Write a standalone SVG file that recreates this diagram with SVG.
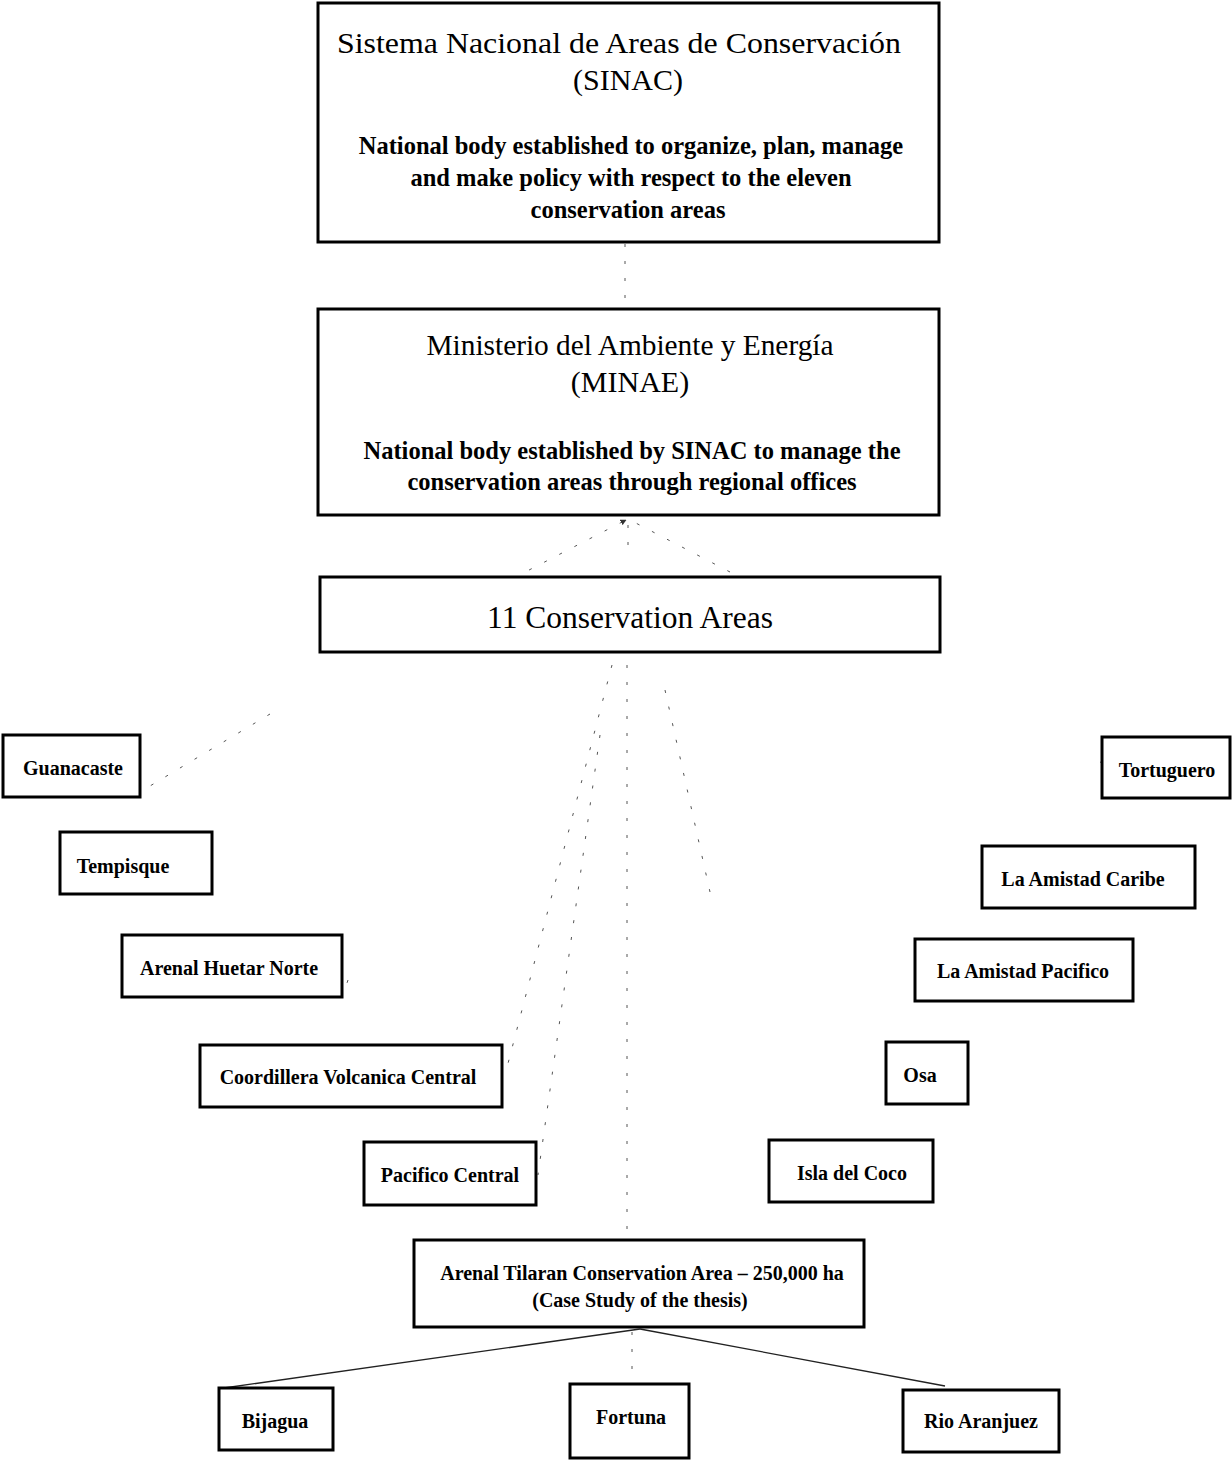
<svg xmlns="http://www.w3.org/2000/svg" width="1232" height="1460" viewBox="0 0 1232 1460">
<style>
.box{fill:#fff;stroke:#000;stroke-width:3}
.t{font-family:"Liberation Serif","Times New Roman",serif;fill:#000;text-anchor:middle}
.title{font-size:30px}
.body{font-size:24.5px;font-weight:bold}
.big{font-size:31.5px}
.sm{font-size:20px;font-weight:bold}
.faint{stroke:#555;stroke-width:1;fill:none;stroke-dasharray:3 14}
.solid{stroke:#222;stroke-width:1.3;fill:none}
</style>
<defs>
<marker id="ah" viewBox="0 0 10 10" refX="9" refY="5" markerWidth="6" markerHeight="6" orient="auto"><path d="M0,0 L10,5 L0,10 z" fill="#333"/></marker>
</defs>
<rect width="1232" height="1460" fill="#fff"/>
<g id="connectors">
<line class="faint" x1="625" y1="244" x2="625" y2="308"/>
<line class="faint" x1="378" y1="648" x2="626" y2="520" marker-end="url(#ah)"/>
<line class="faint" x1="730" y1="572" x2="630" y2="520"/>
<line class="faint" x1="628" y1="545" x2="628" y2="522"/>
<line class="faint" x1="270" y1="714" x2="140" y2="792"/>
<line class="faint" x1="612" y1="665" x2="505" y2="1075"/>
<line class="faint" x1="600" y1="735" x2="538" y2="1175"/>
<line class="faint" x1="627" y1="665" x2="627" y2="1240"/>
<line class="faint" x1="665" y1="690" x2="710" y2="892"/>
<line class="faint" x1="348" y1="980" x2="343" y2="995"/>
<line class="faint" x1="1100" y1="762" x2="1106" y2="764"/>
<line class="solid" x1="640" y1="1329" x2="224" y2="1388"/>
<line class="solid" x1="640" y1="1329" x2="945" y2="1386"/>
<line class="faint" x1="632" y1="1332" x2="632" y2="1382"/>
</g>
<g id="sinac">
<rect class="box" x="318" y="3" width="621" height="239"/>
<text class="t title" x="619" y="53" textLength="564" lengthAdjust="spacingAndGlyphs">Sistema Nacional de Areas de Conservación</text>
<text class="t title" x="628" y="90">(SINAC)</text>
<text class="t body" x="631" y="154">National body established to organize, plan, manage</text>
<text class="t body" x="631" y="186">and make policy with respect to the eleven</text>
<text class="t body" x="628" y="218">conservation areas</text>
</g>
<g id="minae">
<rect class="box" x="318" y="309" width="621" height="206"/>
<text class="t title" x="630" y="355" textLength="407" lengthAdjust="spacingAndGlyphs">Ministerio del Ambiente y Energía</text>
<text class="t title" x="630" y="392">(MINAE)</text>
<text class="t body" x="632" y="459">National body established by SINAC to manage the</text>
<text class="t body" x="632" y="490">conservation areas through regional offices</text>
</g>
<g id="areas11">
<rect class="box" x="320" y="577" width="620" height="75"/>
<text class="t big" x="630" y="628">11 Conservation Areas</text>
</g>
<g id="guanacaste"><rect class="box" x="3" y="735" width="137" height="62"/><text class="t sm" x="73" y="775">Guanacaste</text></g>
<g id="tempisque"><rect class="box" x="60" y="832" width="152" height="62"/><text class="t sm" x="123" y="873">Tempisque</text></g>
<g id="arenal-huetar-norte"><rect class="box" x="122" y="935" width="220" height="62"/><text class="t sm" x="229" y="975">Arenal Huetar Norte</text></g>
<g id="coordillera"><rect class="box" x="200" y="1045" width="302" height="62"/><text class="t sm" x="348" y="1084">Coordillera Volcanica Central</text></g>
<g id="pacifico-central"><rect class="box" x="364" y="1142" width="172" height="63"/><text class="t sm" x="450" y="1182">Pacifico Central</text></g>
<g id="tortuguero"><rect class="box" x="1102" y="737" width="128" height="61"/><text class="t sm" x="1167" y="777">Tortuguero</text></g>
<g id="la-amistad-caribe"><rect class="box" x="982" y="846" width="213" height="62"/><text class="t sm" x="1083" y="886">La Amistad Caribe</text></g>
<g id="la-amistad-pacifico"><rect class="box" x="915" y="939" width="218" height="62"/><text class="t sm" x="1023" y="978">La Amistad Pacifico</text></g>
<g id="osa"><rect class="box" x="886" y="1042" width="82" height="62"/><text class="t sm" x="920" y="1082">Osa</text></g>
<g id="isla-del-coco"><rect class="box" x="769" y="1140" width="164" height="62"/><text class="t sm" x="852" y="1180">Isla del Coco</text></g>
<g id="arenal-tilaran"><rect class="box" x="414" y="1240" width="450" height="87"/>
<text class="t sm" x="642" y="1280">Arenal Tilaran Conservation Area  – 250,000 ha</text>
<text class="t sm" x="640" y="1307">(Case Study of the thesis)</text></g>
<g id="bijagua"><rect class="box" x="219" y="1388" width="114" height="62"/><text class="t sm" x="275" y="1428">Bijagua</text></g>
<g id="fortuna"><rect class="box" x="570" y="1384" width="119" height="74"/><text class="t sm" x="631" y="1424">Fortuna</text></g>
<g id="rio-aranjuez"><rect class="box" x="903" y="1390" width="156" height="62"/><text class="t sm" x="981" y="1428">Rio Aranjuez</text></g>
</svg>
